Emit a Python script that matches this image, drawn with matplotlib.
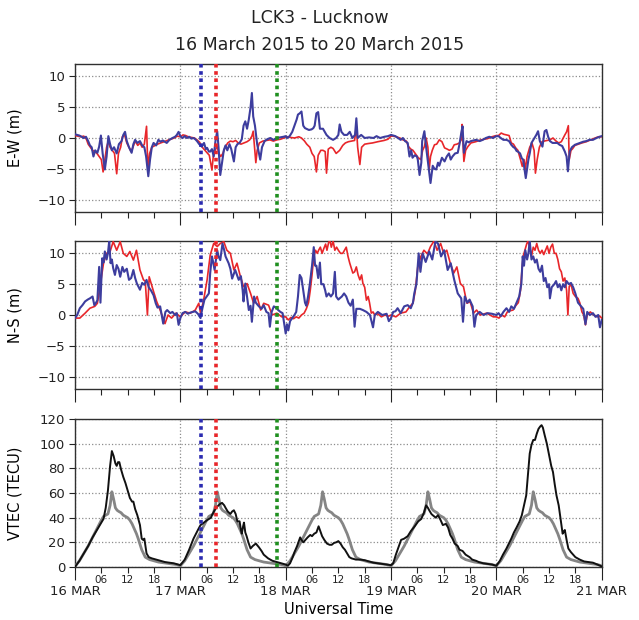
import numpy as np
import matplotlib
matplotlib.use('Agg')
import matplotlib.pyplot as plt
from matplotlib.ticker import FixedLocator, FixedFormatter, NullFormatter

# ---------------- data ----------------
day_labels = ['16 MAR', '17 MAR', '18 MAR', '19 MAR', '20 MAR', '21 MAR']
hour_labels = ['06', '12', '18']
event_hours = [28.8, 32.1, 46.1]          # UT hours since 16 Mar 00:00
event_colors = ['#2b2bb0', '#e8262a', '#1f8f1f']

# E-W displacement (m): (hour, value)
ew_blue = [
    (0, 0.6), (1, 0.4), (2, 0.0), (2.5, 0.2), (3, -0.5), (3.4, -1.2), (3.8, -1.5), (4.2, -3.0), (4.6, -2.0),
    (5.1, -2.4), (5.5, -1.4), (5.9, 0.4), (6.3, -2.5), (6.8, -5.1), (7.2, -3.0), (7.6, 0.3), (8.0, -1.0),
    (8.4, -2.0), (8.9, -1.5), (9.5, -2.5), (10.0, -1.0), (10.6, -0.5), (11.0, 0.5), (11.4, 1.0), (11.8, -0.5),
    (12.3, -1.5), (12.9, -2.4), (13.3, -1.0), (13.7, -0.3), (14.2, -0.8), (14.8, -0.5), (15.3, -1.2),
    (15.8, -1.5), (16.2, -3.0), (16.7, -6.2), (17.1, -3.5), (17.5, -1.5), (17.9, -0.8), (18.5, -1.2),
    (19.0, -0.3), (19.5, -0.6), (20.0, -0.4), (20.9, -0.8), (21.5, -0.3), (22.2, 0.0), (22.8, 0.2),
    (23.2, 0.5), (23.6, 1.0), (24.0, 0.3),
    (24.5, 0.0), (25.0, 0.3), (25.5, 0.0), (26.0, 0.2), (26.5, -0.1), (27.0, 0.0), (27.4, -0.2), (27.8, -0.5),
    (28.3, -1.0), (28.9, -1.4), (29.4, -0.8), (29.8, -1.8), (30.1, -1.6), (30.5, -2.2), (30.8, -2.2),
    (31.2, -1.8), (31.6, -3.0), (32.0, -0.5), (32.4, 1.1), (32.7, -1.5), (33.1, -6.0), (33.5, -4.0),
    (33.9, -2.0), (34.3, -1.2), (34.7, -2.0), (35.2, -1.0), (35.6, -1.8), (36.2, -3.8), (36.6, -1.5),
    (37.0, -1.0), (37.5, -0.8), (38.0, -0.2), (38.4, 2.0), (38.8, 2.7), (39.2, 1.5), (39.6, 3.0),
    (40.0, 5.0), (40.3, 7.3), (40.6, 3.5), (41.0, 2.0), (41.5, -1.0), (42.2, -3.5), (42.6, -1.5),
    (43.2, -0.5), (43.8, -0.2), (44.5, 0.0), (45.2, -0.3), (46.0, 0.0), (46.8, 0.1), (47.5, 0.2), (48.0, 0.3),
    (48.3, 0.0), (48.9, 0.3), (49.5, 1.0), (50.0, 2.0), (50.5, 3.0), (50.8, 3.8), (51.2, 4.0), (51.6, 4.3),
    (52.0, 2.0), (52.4, 1.6), (52.7, 1.5), (53.3, 1.3), (53.9, 1.4), (54.3, 1.6), (54.6, 2.0), (55.0, 4.0),
    (55.4, 4.2), (55.8, 1.5), (56.5, 1.5), (57.3, 0.5), (58.0, 0.0), (58.8, -0.3), (59.5, 0.0), (60.0, 0.5),
    (60.3, 2.2), (60.7, 1.0), (61.3, 0.5), (62.0, 0.5), (62.6, 1.0), (63.2, 0.0), (63.8, 0.5), (64.1, 3.2),
    (64.4, 0.0), (65.2, 0.5), (66.0, 0.0), (67.0, 0.1), (68.0, 0.0), (68.7, 0.3), (69.5, 0.0), (70.5, 0.2),
    (71.3, 0.3), (72.0, 0.5),
    (72.5, 0.4), (73.0, 0.3), (73.6, 0.0), (74.2, -0.3), (74.7, 0.0), (75.2, -0.5), (75.8, -0.8), (76.2, -3.0),
    (76.6, -2.0), (76.9, -3.2), (77.4, -2.8), (77.9, -3.0), (78.1, -3.5), (78.5, -6.0), (78.9, -4.0),
    (79.1, -0.5), (79.6, 1.1), (80.0, -1.5), (80.6, -4.9), (81.0, -7.3), (81.5, -4.5), (81.9, -5.0),
    (82.3, -5.1), (82.7, -4.0), (83.0, -4.5), (83.6, -3.2), (84.2, -3.8), (84.7, -3.0), (85.2, -2.5),
    (85.6, -3.5), (86.0, -3.0), (86.6, -2.5), (87.2, -2.4), (87.6, -1.0), (88.0, 0.8), (88.3, 1.9),
    (88.6, -2.4), (89.2, -0.5), (89.7, -0.7), (90.2, -0.5), (91.4, -0.3), (92.2, -0.5), (92.9, -0.3),
    (93.6, 0.0), (94.4, 0.2), (95.2, 0.0), (96.0, 0.3),
    (96.5, 0.3), (97.0, 0.0), (97.6, -0.3), (98.3, -0.3), (98.9, -0.5), (99.4, -1.1), (99.9, -1.5),
    (100.2, -1.6), (100.6, -2.1), (100.9, -2.2), (101.4, -2.5), (101.8, -3.3), (102.1, -3.5), (102.7, -6.5),
    (103.0, -5.0), (103.3, -3.5), (103.6, -2.5), (104.0, -0.8), (104.5, -0.2), (105.1, 0.5), (105.5, 1.1),
    (105.9, -0.5), (106.5, -1.4), (107.0, 1.1), (107.4, 1.3), (107.8, 0.2), (108.2, -0.5), (108.8, -0.8),
    (109.3, -0.8), (109.9, -0.8), (110.4, -1.1), (111.0, -1.3), (111.6, -2.2), (112.0, -3.0), (112.3, -5.4),
    (112.7, -2.2), (113.2, -1.5), (113.9, -1.1), (115.0, -0.8), (115.8, -0.6), (116.5, -0.5), (117.2, -0.3),
    (118.0, -0.3), (118.8, 0.0), (119.5, 0.2), (120.0, 0.3),
]

ew_red = [
    (0, 0.4), (0.7, 0.3), (1.3, 0.2), (2.0, 0.3), (2.6, -0.2), (3.0, -1.0), (3.5, -1.5), (4.0, -2.0),
    (4.5, -2.2), (5.0, -2.5), (5.5, -3.0), (6.0, -3.5), (6.4, -5.5), (6.8, -3.5), (7.2, -1.5), (7.6, -0.5),
    (8.0, -1.5), (8.5, -2.0), (9.0, -2.5), (9.5, -5.8), (9.9, -2.5), (10.4, -1.5), (10.8, 0.2), (11.3, 0.5),
    (11.8, -0.8), (12.3, -1.5), (12.8, -2.2), (13.2, -1.5), (13.7, -0.5), (14.3, -1.2), (14.8, -0.8),
    (15.3, -1.5), (15.8, -1.0), (16.3, 1.9), (16.6, -5.0), (17.0, -2.5), (17.5, -1.5), (18.0, -1.3),
    (18.8, -1.0), (19.5, -0.8), (20.3, -0.6), (21.0, -0.4), (21.8, -0.2), (22.6, 0.0), (23.3, 0.3), (24.0, 0.2),
    (24.6, 0.5), (25.2, 0.4), (25.8, 0.2), (26.5, 0.1), (27.2, 0.0), (27.8, -0.3), (28.4, -0.7), (29.0, -1.5),
    (29.6, -2.0), (30.1, -2.4), (30.6, -2.8), (31.2, -5.2), (31.5, -3.0), (31.9, -2.0), (32.4, -1.4),
    (32.8, -2.5), (33.2, -3.0), (33.7, -2.5), (34.2, -1.5), (34.8, -0.8), (35.4, -0.5), (36.0, -0.6),
    (36.6, -0.4), (37.2, -0.8), (37.8, -1.0), (38.5, -0.8), (39.2, -0.6), (39.8, -0.3), (40.3, 0.3),
    (40.6, 1.1), (40.9, -1.5), (41.2, -4.0), (41.5, -2.0), (42.0, -0.8), (42.8, -0.5), (43.6, -0.4),
    (44.4, -0.3), (45.2, -0.5), (46.0, -0.3), (46.8, -0.2), (47.6, 0.0), (48.0, 0.2),
    (48.3, 0.2), (49.0, 0.1), (50.0, 0.0), (51.0, 0.2), (51.6, 0.0), (52.3, -0.5), (52.8, -1.0), (53.5, -1.5),
    (54.0, -2.5), (54.5, -3.0), (55.0, -5.5), (55.4, -2.8), (56.0, -2.0), (56.5, -2.0), (57.0, -2.2),
    (57.3, -5.7), (57.7, -1.8), (58.3, -1.5), (58.8, -1.7), (59.5, -2.5), (60.3, -2.0), (61.0, -1.2),
    (61.6, -0.8), (62.3, -0.6), (63.0, -0.5), (63.7, -0.4), (64.1, 1.9), (64.4, -1.5), (64.9, -4.3),
    (65.3, -1.5), (66.0, -1.0), (66.8, -0.9), (67.8, -0.8), (69.0, -0.6), (70.4, -0.4), (71.3, -0.2), (72.0, 0.3),
    (72.5, 0.3), (73.2, 0.2), (74.0, 0.0), (74.7, -0.3), (75.5, -0.5), (76.0, -1.4), (76.5, -1.8), (77.0, -2.0),
    (77.5, -2.5), (78.2, -3.2), (78.8, -3.5), (79.2, -2.0), (79.6, -1.4), (80.0, 0.0), (80.4, -1.5),
    (80.7, -5.1), (81.0, -3.0), (81.4, -2.0), (81.9, -1.1), (82.4, -1.0), (83.0, -0.3), (83.6, -0.6),
    (84.2, -1.6), (84.8, -1.8), (85.3, -2.0), (85.9, -1.8), (86.4, -1.1), (87.0, -1.0), (87.6, -0.8),
    (88.0, -0.3), (88.2, 2.2), (88.6, -3.8), (89.0, -2.0), (89.5, -1.4), (90.2, -0.8), (91.3, -0.6),
    (92.5, -0.3), (94.0, -0.1), (95.0, 0.2), (96.0, 0.4),
    (96.5, 0.4), (97.1, 0.8), (97.7, 0.6), (98.3, 0.5), (98.9, 0.4), (99.4, -0.8), (99.9, -1.0), (100.4, -1.6),
    (100.9, -2.0), (101.5, -3.5), (101.9, -4.6), (102.3, -3.5), (102.6, -5.1), (103.0, -3.0), (103.6, -1.5),
    (104.1, -0.8), (104.6, -2.0), (104.9, -5.7), (105.3, -3.5), (105.8, -1.5), (106.4, -0.6), (106.9, -0.5),
    (107.5, -0.4), (108.2, -0.3), (108.9, 0.0), (109.6, -0.5), (110.2, -0.8), (110.8, -0.6), (111.6, 0.5),
    (112.0, 1.0), (112.4, 2.0), (112.6, -3.5), (113.0, -2.0), (113.3, -1.8), (113.9, -1.2), (114.7, -1.0),
    (115.5, -0.8), (116.5, -0.6), (117.5, -0.3), (118.5, 0.0), (119.3, 0.2), (120.0, 0.2),
]

# N-S displacement (m): (hour, value)
ns_blue = [
    (0, -0.5), (0.5, 0.0), (1.1, 1.1), (1.7, 1.6), (2.3, 2.2), (2.9, 2.5), (3.4, 2.7), (4.0, 3.0), (4.4, 1.6),
    (4.8, 2.0), (5.1, 2.4), (5.3, 5.0), (5.5, 7.8), (5.8, 2.0), (6.2, 9.2), (6.5, 8.5), (6.8, 10.3),
    (7.2, 9.0), (7.5, 10.0), (7.8, 12.0), (8.1, 8.4), (8.4, 9.0), (8.7, 7.6), (9.1, 6.5), (9.5, 8.1),
    (9.9, 7.5), (10.3, 6.2), (10.8, 7.8), (11.2, 7.0), (11.8, 7.5), (12.3, 5.7), (12.8, 6.0), (13.3, 7.3),
    (13.7, 6.0), (14.1, 5.1), (14.8, 4.1), (15.3, 5.2), (15.8, 4.9), (16.3, 5.7), (16.8, 4.5), (17.3, 4.0),
    (17.9, 3.2), (18.4, 1.9), (18.8, 1.2), (19.4, 1.4), (19.7, 0.2), (20.1, -1.4), (20.6, 0.5), (21.0, 0.8),
    (21.7, 0.3), (22.2, 0.5), (22.8, 0.0), (23.2, 0.3), (23.6, -1.6), (24.0, -0.5),
    (24.5, 0.3), (25.1, 0.5), (25.7, 0.2), (26.3, 0.4), (26.9, 0.5), (27.4, 0.6), (28.0, 0.2), (28.6, -0.5),
    (29.0, 1.0), (29.5, 2.5), (30.0, 3.0), (30.5, 3.5), (30.8, 6.8), (31.2, 9.5), (31.5, 8.5), (31.8, 7.3),
    (32.4, 10.5), (32.7, 9.5), (33.1, 8.9), (33.4, 10.5), (33.6, 11.6), (34.0, 10.5), (34.3, 9.5),
    (35.0, 8.4), (35.4, 7.5), (35.8, 5.9), (36.5, 7.3), (37.3, 5.7), (37.8, 6.3), (38.2, 4.0), (38.4, 2.2),
    (38.8, 5.1), (39.2, 3.0), (39.6, 0.8), (40.0, 1.5), (40.3, -1.1), (40.8, 3.0), (41.2, 2.0), (41.9, 1.4),
    (42.5, 1.0), (43.0, 1.6), (43.6, 0.5), (44.1, 0.3), (44.4, -1.9), (44.8, 0.5), (45.3, 1.4), (45.8, 1.2),
    (46.3, 0.8), (46.8, 0.5), (47.3, 0.3), (47.6, -1.1), (48.0, -3.0),
    (48.3, -1.5), (48.6, -2.5), (49.0, -1.0), (49.5, -0.5), (50.0, 0.0), (50.4, 0.5), (50.8, 3.0),
    (51.2, 6.5), (51.6, 6.0), (52.0, 4.0), (52.4, 2.0), (52.7, 1.5), (53.1, 3.0), (53.5, 5.0), (54.0, 8.0),
    (54.4, 11.0), (54.7, 8.0), (55.0, 8.0), (55.4, 6.0), (55.8, 8.5), (56.1, 5.0), (56.6, 5.0), (57.0, 4.0),
    (57.3, 3.0), (57.8, 3.5), (58.3, 3.0), (58.8, 3.5), (59.2, 7.0), (59.5, 3.0), (60.0, 2.5), (60.3, 2.7),
    (60.8, 3.0), (61.3, 3.5), (61.8, 3.0), (62.3, 2.0), (62.8, 1.5), (63.3, 2.5), (63.7, -1.9), (64.1, 1.0),
    (64.9, 1.0), (65.6, 0.8), (66.4, 0.5), (67.2, 0.0), (67.9, -2.0), (68.3, 0.0), (69.0, 0.5), (70.0, 0.0),
    (71.0, 0.2), (71.5, -1.0), (72.0, -0.5),
    (72.5, 0.5), (73.0, 0.6), (73.5, 1.1), (74.2, 0.3), (75.0, 1.4), (75.8, 1.6), (76.5, 1.1), (77.0, 2.0),
    (77.3, 3.5), (77.8, 5.1), (78.3, 10.0), (78.7, 7.0), (79.2, 10.0), (79.9, 8.6), (80.7, 10.3), (81.4, 9.0),
    (82.1, 11.9), (82.7, 11.6), (83.4, 9.5), (84.1, 10.5), (84.9, 7.3), (85.6, 8.4), (86.4, 5.7), (87.2, 3.5),
    (88.0, 2.7), (88.4, -1.1), (88.8, 3.0), (89.4, 2.0), (89.9, 2.5), (90.6, 1.4), (91.0, -1.9), (91.4, 0.0),
    (92.2, 0.5), (93.1, 0.0), (94.0, 0.3), (95.0, 0.2), (96.0, 0.0),
    (96.5, 0.3), (97.0, -0.2), (97.6, 0.5), (98.3, 1.1), (98.9, 0.5), (99.4, 1.4), (100.0, 1.0), (100.6, 2.0),
    (101.2, 3.0), (101.7, 5.1), (102.0, 9.5), (102.3, 8.0), (102.6, 10.5), (103.0, 9.0), (103.3, 10.0),
    (103.6, 12.0), (104.0, 9.0), (104.4, 9.5), (104.8, 8.5), (105.2, 9.0), (105.6, 7.5), (106.0, 7.0),
    (106.4, 8.0), (106.8, 5.5), (107.2, 6.0), (107.6, 4.5), (108.0, 5.0), (108.2, 2.7), (108.6, 4.5),
    (109.2, 5.0), (109.6, 5.5), (110.0, 4.5), (110.4, 5.0), (110.8, 4.0), (111.2, 5.0), (111.6, 4.5),
    (112.0, 5.5), (112.5, 5.0), (113.0, 5.2), (113.5, 4.5), (114.0, 3.5), (114.6, 2.0), (115.2, 1.5),
    (115.8, 1.0), (116.3, -1.5), (116.7, 0.5), (117.3, 0.0), (118.0, 0.3), (118.6, -0.3), (119.2, 0.0),
    (119.6, -2.0), (120.0, -0.8),
]

ns_red = [
    (0, -0.5), (1.1, -0.5), (2.3, 0.3), (3.4, 1.1), (4.5, 1.4), (5.1, 1.9), (5.7, 4.6), (6.5, 8.4), (7.2, 10.0),
    (8.0, 10.3), (8.7, 11.9), (9.5, 10.5), (10.3, 11.9), (11.0, 10.0), (11.8, 9.5), (12.5, 10.3), (13.3, 8.9),
    (14.0, 10.5), (14.8, 7.3), (15.6, 5.7), (16.0, 5.5), (16.5, 0.0), (16.9, 6.2), (17.9, 3.8), (18.6, 2.2),
    (19.4, 0.8), (20.5, -1.4), (21.2, 0.0), (22.0, -0.5), (23.0, 0.3), (24.0, -0.3),
    (25.1, 0.5), (26.3, 0.3), (27.4, 0.8), (28.2, 1.9), (28.6, 0.3), (29.3, 2.4), (30.1, 5.7), (30.8, 9.7),
    (31.6, 11.6), (32.4, 11.1), (33.1, 11.6), (33.9, 11.9), (34.6, 10.5), (35.4, 10.0), (36.2, 7.3),
    (36.9, 8.4), (37.7, 6.2), (38.4, 4.6), (39.2, 5.1), (40.0, 3.5), (40.7, 1.9), (41.5, 3.0), (42.3, 0.8),
    (43.0, 1.9), (44.1, 1.6), (44.9, 0.0), (46.0, 0.3), (47.1, -0.3), (48.0, -0.3),
    (48.6, -0.8), (49.2, -0.4), (49.8, -0.6), (50.4, -0.3), (51.0, -0.5), (51.6, 0.0), (52.2, 0.3),
    (52.7, 1.0), (53.2, 2.0), (53.6, 4.0), (54.0, 6.5), (54.4, 9.5), (54.8, 10.5), (55.2, 10.0), (55.5, 10.5),
    (55.9, 11.0), (56.3, 10.0), (56.7, 10.8), (57.1, 11.5), (57.4, 10.5), (57.8, 11.8), (58.1, 12.0),
    (58.4, 11.0), (58.8, 12.0), (59.2, 10.5), (59.6, 11.0), (60.0, 10.5), (60.5, 10.0), (61.0, 10.0),
    (61.4, 10.5), (61.8, 11.0), (62.2, 9.5), (62.6, 8.4), (63.0, 7.5), (63.3, 6.8), (63.7, 7.0), (64.1, 7.8),
    (64.5, 6.5), (64.9, 5.7), (65.3, 6.5), (65.6, 5.1), (66.0, 4.5), (66.4, 2.4), (66.8, 3.0), (67.1, 2.0),
    (67.5, 0.3), (67.9, 0.5), (68.3, 0.0), (69.0, 0.2), (69.8, -0.3), (70.6, 0.0), (71.4, -0.2), (72.0, 0.0),
    (73.1, -0.3), (74.2, 0.3), (75.4, 0.5), (76.3, 1.4), (77.0, 1.9), (77.5, 3.8), (78.1, 7.8), (78.8, 9.5),
    (79.5, 10.5), (80.3, 9.9), (81.0, 11.1), (81.8, 12.0), (82.5, 10.5), (83.3, 11.6), (84.0, 10.0),
    (84.7, 10.5), (85.5, 8.4), (86.3, 6.8), (87.0, 7.8), (87.8, 5.1), (88.5, 4.6), (89.3, 1.9), (90.0, 2.2),
    (90.8, 0.3), (91.5, 0.8), (92.3, 0.0), (93.8, 0.3), (95.3, -0.3), (96.0, -0.3),
    (96.6, -0.5), (97.2, 0.0), (97.9, -0.3), (98.5, 0.5), (99.2, 0.7), (99.8, 0.8), (100.4, 1.5), (101.0, 2.0),
    (101.5, 4.0), (101.8, 7.0), (102.1, 9.5), (102.5, 10.5), (102.9, 11.5), (103.2, 12.0), (103.6, 11.0),
    (104.0, 9.5), (104.4, 11.0), (104.8, 10.5), (105.2, 11.6), (105.6, 10.5), (106.0, 10.0), (106.4, 10.5),
    (106.8, 9.8), (107.2, 10.5), (107.6, 11.2), (108.0, 10.0), (108.4, 11.0), (108.8, 11.5), (109.2, 10.0),
    (109.6, 10.0), (110.0, 9.0), (110.4, 7.5), (110.8, 7.0), (111.2, 5.5), (111.6, 6.0), (112.0, 4.0),
    (112.3, 0.0), (112.6, 4.6), (113.0, 5.0), (113.5, 3.5), (114.0, 3.0), (114.6, 2.7), (115.0, 2.0),
    (115.5, 0.5), (115.9, 0.0), (116.3, -1.6), (116.7, 0.0), (117.4, 0.5), (118.2, 0.0), (119.0, -0.3),
    (119.6, -0.2), (120.0, -0.5),
]

# VTEC (TECU): observed (black), (hour, value)
vtec_obs = [
    (0, 0.0), (1, 5), (2, 11), (3, 17), (4, 24), (5, 30), (6, 36), (6.5, 39), (7.0, 48), (7.5, 62), (8.0, 82),
    (8.4, 94), (8.8, 90), (9.2, 84), (9.5, 82), (9.8, 85), (10.1, 85), (10.5, 79), (11.0, 73), (11.5, 68),
    (12.0, 62), (12.5, 56), (13.0, 53), (13.3, 53), (13.7, 47), (14.2, 42), (14.8, 34), (15.2, 23), (15.5, 22),
    (15.8, 23), (16.3, 11), (16.8, 8), (17.5, 7), (18.5, 6), (19.5, 5), (20.5, 4), (21.5, 3.5), (22.5, 3),
    (23.5, 2), (24.0, 1.5),
    (25.0, 6), (25.5, 10), (26.0, 14), (27.0, 23), (28.0, 30), (28.6, 34), (29.0, 35), (30.1, 38), (31.0, 40),
    (31.2, 42), (31.8, 46), (32.4, 49), (33.0, 51), (33.5, 52), (34.0, 50), (34.3, 48), (34.8, 45), (35.4, 43),
    (35.8, 45), (36.2, 46), (36.6, 43), (37.0, 37), (37.5, 37), (37.8, 30), (38.0, 27), (38.3, 33), (38.5, 36),
    (38.8, 28), (39.1, 25), (39.5, 20), (40.0, 15), (40.5, 17), (41.2, 19), (41.9, 16), (42.5, 13), (43.0, 10),
    (44.0, 7), (44.5, 6), (45.0, 5), (46.0, 4), (47.0, 3), (47.5, 2.5), (48.0, 2),
    (48.5, 1), (49.0, 3), (49.6, 8), (50.0, 12), (50.6, 17), (51.0, 21), (51.3, 24), (51.6, 22), (52.0, 20),
    (52.5, 22), (53.0, 24), (53.6, 26), (54.0, 25), (54.5, 27), (55.0, 28), (55.5, 33), (56.0, 28), (56.3, 25),
    (56.8, 22), (57.4, 19), (58.0, 18), (58.5, 18), (59.0, 19.5), (59.5, 20), (60.0, 21), (60.5, 19),
    (61.0, 16), (61.5, 14), (62.0, 11), (62.5, 8), (63.0, 7), (64.0, 6), (65.0, 6), (66.0, 5.5), (67.0, 4.5),
    (68.0, 3.5), (69.0, 3), (70.0, 2.5), (71.0, 2), (72.0, 1.5),
    (72.5, 3), (73.1, 10), (73.7, 16), (74.3, 22), (75.0, 23), (75.8, 25), (76.5, 29), (77.4, 33), (78.2, 37),
    (78.9, 39), (79.5, 44), (80.0, 50), (80.4, 48), (80.7, 46), (81.2, 43), (81.5, 42), (82.2, 40), (82.7, 42),
    (83.3, 38), (83.8, 34), (84.5, 35), (85.0, 32), (85.5, 26), (86.0, 23), (86.5, 19), (87.2, 17), (87.6, 14),
    (88.3, 13), (89.0, 10), (89.9, 8), (90.5, 6), (91.4, 5), (92.0, 4), (93.0, 3), (94.0, 2.5), (95.0, 2),
    (96.0, 1),
    (96.8, 5), (97.5, 10), (98.3, 15), (99.0, 20), (99.4, 23), (100.0, 28), (100.6, 32), (101.3, 37),
    (101.8, 42), (102.3, 50), (102.8, 58), (103.2, 75), (103.6, 92), (104.0, 99), (104.4, 103), (104.8, 103),
    (105.2, 108), (105.6, 112), (106.0, 114), (106.3, 115), (106.6, 113), (107.0, 107), (107.5, 100),
    (108.0, 91), (108.5, 82), (108.9, 77), (109.3, 67), (109.7, 58), (110.2, 50), (110.6, 40), (111.1, 27),
    (111.4, 29), (111.6, 30), (112.0, 22), (112.4, 15), (113.0, 12), (113.5, 10), (114.0, 8), (115.0, 6),
    (116.0, 4.5), (117.0, 4), (118.0, 3.5), (119.0, 2), (120.0, 0.5),
]

# VTEC (TECU): reference (gray), one list per day on a common hour grid
ref_hours = [0, 1, 2, 3, 4, 5, 6, 6.5, 7, 7.5, 8, 8.4, 8.8, 9.2, 9.6, 10, 10.5, 11, 11.5, 12, 12.5, 13,
             13.5, 14, 14.4, 15.2, 16, 16.5, 17, 18, 19, 20, 21, 22, 23, 24]
vtec_ref_16 = [0.5, 5, 11, 17, 24, 31, 38, 41, 42, 43, 50, 61, 55, 48, 46, 45, 44, 42, 41, 40, 38, 35,
               31, 27, 23, 14, 8, 7, 6, 5, 4, 3.5, 3, 2.5, 2, 1]
vtec_ref_17 = [1, 5, 11, 17, 24, 31, 38, 41, 42, 43, 50, 61, 55, 48, 46, 45, 44, 42, 41, 40, 38, 35,
               31, 27, 23, 14, 8, 7, 6, 5, 4, 3.5, 3, 2.5, 2, 1]
vtec_ref_18 = [1, 5, 11, 17, 24, 31, 38, 41, 42, 43, 50, 61, 55, 48, 46, 45, 44, 42, 41, 40, 38, 35,
               31, 27, 23, 14, 8, 7, 6, 5, 4, 3.5, 3, 2.5, 2, 1]
vtec_ref_19 = [1, 5, 11, 17, 24, 31, 38, 41, 42, 43, 50, 61, 55, 48, 46, 45, 44, 42, 41, 40, 38, 35,
               31, 27, 23, 14, 8, 7, 6, 5, 4, 3.5, 3, 2.5, 2, 1]
vtec_ref_20 = [1, 5, 11, 17, 24, 31, 38, 41, 42, 43, 50, 61, 55, 48, 46, 45, 44, 42, 41, 40, 38, 35,
               31, 27, 23, 14, 8, 7, 6, 5, 4, 3.5, 3, 2.5, 2, 1]
vtec_ref_days = [vtec_ref_16, vtec_ref_17, vtec_ref_18, vtec_ref_19, vtec_ref_20]

# ---------------- figure ----------------
W, H = 639, 620
fig = plt.figure(figsize=(W / 100, H / 100), dpi=100)

left = 75 / W
width = (601.7 - 75) / W
panel_px = [(64, 212), (241, 389), (419, 567)]
axes = []
for top, bot in panel_px:
    axes.append(fig.add_axes([left, 1 - bot / H, width, (bot - top) / H]))
ax1, ax2, ax3 = axes

RED = '#e8262a'
BLUE = '#3d3d9e'
GRID = dict(color='#8c8c8c', linestyle=':', linewidth=0.9)


def unzip(pairs):
    t = np.array([p[0] for p in pairs], dtype=float)
    v = np.array([p[1] for p in pairs], dtype=float)
    return t, v


major = [24 * i for i in range(len(day_labels))]
minor = [24 * d + h for d in range(len(day_labels) - 1) for h in (6, 12, 18)]
minor_lbl = hour_labels * (len(day_labels) - 1)

for ax in axes:
    ax.set_xlim(0, 120)
    ax.xaxis.set_major_locator(FixedLocator(major))
    ax.xaxis.set_minor_locator(FixedLocator(minor))
    ax.grid(True, which='major', axis='both', **GRID)
    ax.set_axisbelow(True)
    for s in ax.spines.values():
        s.set_linewidth(1.0)
        s.set_color('#303030')
    ax.tick_params(axis='y', which='major', direction='out', length=4, width=0.8,
                   labelsize=9.5, pad=3, colors='#222222')
    ax.tick_params(axis='x', which='major', direction='out', length=9, width=0.8,
                   labelsize=9.5, pad=4, colors='#222222')
    ax.tick_params(axis='x', which='minor', direction='out', length=4, width=0.8,
                   labelsize=7.5, pad=2, colors='#222222')
    ax.yaxis.set_label_coords(-0.10, 0.5)

for ax in (ax1, ax2):
    ax.xaxis.set_major_formatter(NullFormatter())
    ax.xaxis.set_minor_formatter(NullFormatter())
    ax.set_ylim(-12, 12)
    ax.set_yticks([-10, -5, 0, 5, 10])

ax3.xaxis.set_major_formatter(FixedFormatter(day_labels))
ax3.xaxis.set_minor_formatter(FixedFormatter(minor_lbl))
ax3.set_ylim(0, 120)
ax3.set_yticks(range(0, 121, 20))

# E-W
t, v = unzip(ew_red)
ax1.plot(t, v, color=RED, lw=1.2, zorder=3)
t, v = unzip(ew_blue)
ax1.plot(t, v, color=BLUE, lw=1.5, zorder=4)
ax1.set_ylabel('E-W (m)', fontsize=10.5)

# N-S
t, v = unzip(ns_red)
ax2.plot(t, v, color=RED, lw=1.2, zorder=3)
t, v = unzip(ns_blue)
ax2.plot(t, v, color=BLUE, lw=1.5, zorder=4)
ax2.set_ylabel('N-S (m)', fontsize=10.5)

# VTEC
for d, vals in enumerate(vtec_ref_days):
    ax3.plot(np.array(ref_hours) + 24 * d, vals, color='#858585', lw=2.0, zorder=3)
t, v = unzip(vtec_obs)
ax3.plot(t, v, color='#111111', lw=1.4, zorder=4)
ax3.set_ylabel('VTEC (TECU)', fontsize=10.5)
ax3.set_xlabel('Universal Time', fontsize=10.5, labelpad=3)

# event markers
for ax in axes:
    for h, c in zip(event_hours, event_colors):
        ax.axvline(h, color=c, lw=2.6, linestyle=(0, (1, 1)), zorder=5)

fig.text(0.5, 1 - 18 / H, 'LCK3 - Lucknow', ha='center', va='center', fontsize=12.5, color='#222222')
fig.text(0.5, 1 - 45 / H, '16 March 2015 to 20 March 2015', ha='center', va='center',
         fontsize=12.5, color='#222222')

fig.savefig('out.png', dpi=100)
